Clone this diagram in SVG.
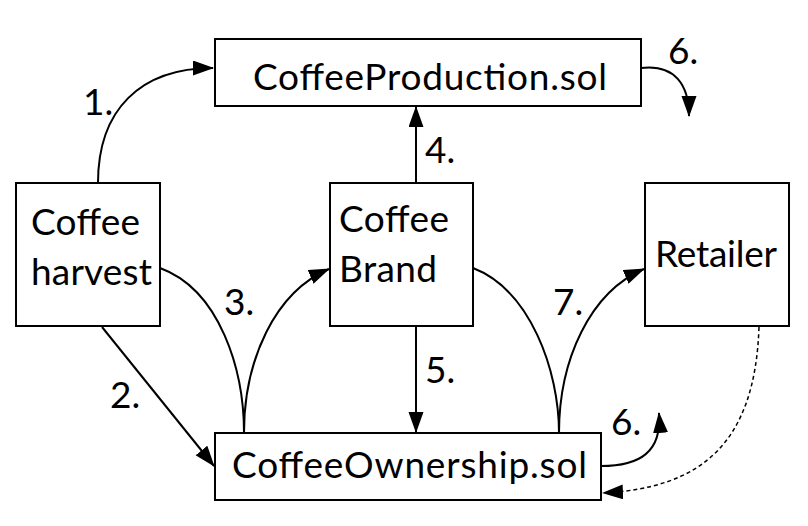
<svg xmlns="http://www.w3.org/2000/svg" width="808" height="526" viewBox="0 0 808 526">
<style>
.box{fill:#fff;stroke:#000;stroke-width:2}
.t{font-family:Lato,"Noto Sans","Liberation Sans",sans-serif;font-size:37px;fill:#000}
.c{fill:none;stroke:#000;stroke-width:2}
.a{marker-end:url(#ah)}
.d{stroke-dasharray:4,3;stroke-width:1.5}
</style>
<defs>
<marker id="ah" markerWidth="22" markerHeight="16" refX="20" refY="7.5" orient="auto" markerUnits="userSpaceOnUse">
<path d="M0,0 L21,7.5 L0,15 z" fill="#000"/>
</marker>
</defs>
<rect width="808" height="526" fill="#fff"/>
<g id="connectors">
<path class="c a" d="M98,183 C98,110 140,68 213,68"/>
<path class="c a" d="M102,327 L214,466"/>
<path class="c" d="M160,268 C220,290 244,370 244,433"/>
<path class="c a" d="M244,433 C244,360 275,292 329,269"/>
<path class="c a" d="M416,183 L416,107"/>
<path class="c a" d="M416,326 L416,432"/>
<path class="c a" d="M641,68 C675,64 689,85 689,116"/>
<path class="c" d="M473,268 C530,290 559,370 559,433"/>
<path class="c a" d="M559,433 C559,360 590,292 644,269"/>
<path class="c a" d="M601,466 C640,466 662,452 659,413"/>
<path class="c a d" d="M759,327 C755,445 700,488 603,493"/>
<text class="t" x="83" y="115">1.</text>
<text class="t" x="110" y="408">2.</text>
<text class="t" x="224" y="315">3.</text>
<text class="t" x="425" y="163">4.</text>
<text class="t" x="425" y="383">5.</text>
<text class="t" x="668" y="64">6.</text>
<text class="t" x="611" y="435">6.</text>
<text class="t" x="553" y="315">7.</text>
</g>
<g id="production">
<rect class="box" x="215" y="39" width="426" height="67"/>
<text class="t" x="253" y="90" textLength="354">CoffeeProduction.sol</text>
</g>
<g id="harvest">
<rect class="box" x="16" y="183" width="144" height="143"/>
<text class="t" x="31" y="235" textLength="109">Coffee</text>
<text class="t" x="31" y="285" textLength="121">harvest</text>
</g>
<g id="brand">
<rect class="box" x="330" y="183" width="143" height="143"/>
<text class="t" x="339" y="232" textLength="110">Coffee</text>
<text class="t" x="339" y="282" textLength="98">Brand</text>
</g>
<g id="retailer">
<rect class="box" x="645" y="183" width="144" height="143"/>
<text class="t" x="655" y="267" textLength="122">Retailer</text>
</g>
<g id="ownership">
<rect class="box" x="215" y="433" width="386" height="67"/>
<text class="t" x="232" y="478" textLength="355">CoffeeOwnership.sol</text>
</g>
</svg>
